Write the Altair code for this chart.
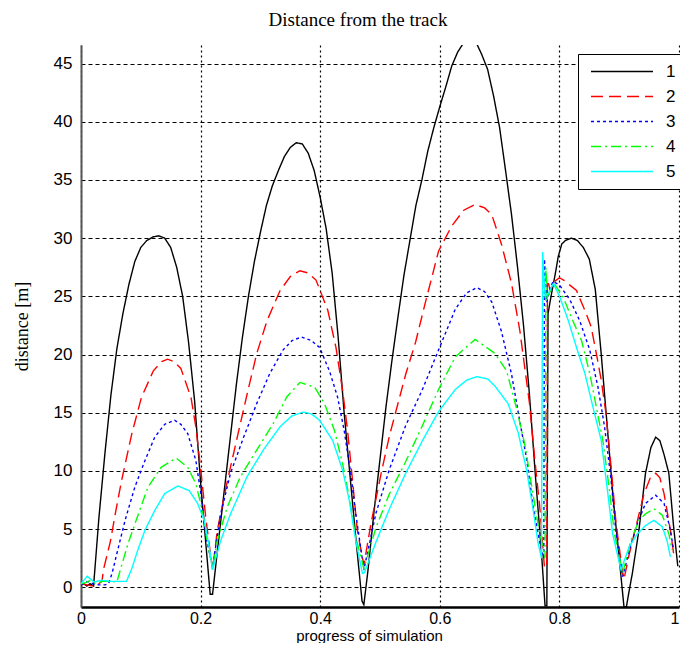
import altair as alt
import pandas as pd

# ---- data ----
SERIES = ["1", "2", "3", "4", "5"]
COLORS = ["#000000", "#ff0000", "#0000ff", "#00ff00", "#00ffff"]
DASHES = [[1, 0], [12, 6], [3, 3], [10, 4, 2, 4], [1, 0]]
XTICKS = [0, 0.2, 0.4, 0.6, 0.8, 1]
YTICKS = [0, 5, 10, 15, 20, 25, 30, 35, 40, 45]

X1 = [0, 0.005, 0.01, 0.015, 0.021, 0.03, 0.04, 0.05, 0.06, 0.07, 0.08, 0.09, 0.10, 0.11, 0.12, 0.13,
      0.14, 0.15, 0.16, 0.17, 0.18, 0.19, 0.20, 0.21, 0.216, 0.22,
      0.23, 0.24, 0.25, 0.26, 0.27, 0.28, 0.29, 0.30, 0.31, 0.32, 0.33, 0.34, 0.35, 0.36, 0.37, 0.38,
      0.39, 0.40, 0.41, 0.42, 0.43, 0.44, 0.45, 0.46, 0.47, 0.473,
      0.48, 0.49, 0.50, 0.51, 0.52, 0.53, 0.54, 0.55, 0.56, 0.57, 0.58, 0.59, 0.60, 0.61, 0.62, 0.63,
      0.64, 0.65, 0.66, 0.67, 0.68, 0.69, 0.70, 0.71, 0.72, 0.73, 0.74, 0.75, 0.76, 0.77, 0.776,
      0.779, 0.781, 0.786, 0.793, 0.798, 0.804, 0.81, 0.82, 0.83, 0.84, 0.85, 0.86, 0.87, 0.88, 0.89,
      0.90, 0.908, 0.912, 0.916, 0.922, 0.933, 0.944, 0.953, 0.961, 0.968, 0.975, 0.983, 0.991, 0.998]
Y1 = [0.2, 0.3, 0.1, 0.3, 0.1, 6, 11.5, 16.5, 20.5, 23.5, 26, 28, 29.2, 29.8, 30.1, 30.2,
      30.0, 29.2, 27.5, 25, 21, 16, 9, 3, -0.6, -0.6,
      4, 8.5, 13, 17.5, 21.5, 25, 28, 30.5, 32.8, 34.5, 35.8, 37, 37.8, 38.2, 38.1, 37.3,
      35.8, 33.5, 30.8, 27, 21.5, 15, 9.5, 4, -1.2, -1.5,
      1.5, 6.5, 11, 15.5, 19.5, 23.2, 26.8, 29.8, 32.8, 35, 37.5, 39.5, 41.3, 43, 44.8, 46,
      46.8, 47.1, 46.9, 45.8, 44.5, 42.2, 39.5, 35.8, 32, 27.5, 22.5, 16.5, 9.5, 3, -1.6,
      -1.6, 23.5, 25, 26.9, 28.4, 29.5, 29.8, 30, 29.8, 29.2, 28.2, 25.6, 20, 13.8, 7.6,
      2.5, -1.7, -1.7, -0.5, 1.2, 4.9, 9.8, 12.0, 12.9, 12.6, 11.4, 9.8, 5.2, 1.8]

X2 = [0, 0.01, 0.02, 0.03, 0.035, 0.038, 0.049, 0.058, 0.068, 0.085, 0.101, 0.121, 0.135, 0.145,
      0.155, 0.167, 0.184, 0.192, 0.2005, 0.209, 0.22,
      0.228, 0.245, 0.264, 0.2805, 0.294, 0.311, 0.333, 0.35, 0.366, 0.38, 0.393, 0.4127, 0.4264,
      0.4375, 0.4457, 0.454, 0.462, 0.473,
      0.485, 0.502, 0.5155, 0.5265, 0.543, 0.5597, 0.576, 0.598, 0.620, 0.64, 0.659, 0.675, 0.687,
      0.703, 0.720, 0.734, 0.742, 0.750, 0.7586, 0.767, 0.775,
      0.779, 0.780, 0.785, 0.79, 0.80, 0.807, 0.8286, 0.8425, 0.853, 0.8617, 0.87, 0.878, 0.8865,
      0.8947, 0.9058, 0.908,
      0.917, 0.928, 0.9416, 0.952, 0.961, 0.968, 0.975, 0.9856, 0.991]
Y2 = [0.3, 0.2, 0.1, 0.3, 0.5, 1.6, 3.9, 6.5, 9.2, 13.2, 16.3, 18.6, 19.4, 19.6,
      19.4, 18.8, 16.3, 13.8, 10, 5.8, 1.5,
      4.9, 9.2, 13.5, 17.2, 20.1, 22.9, 25.5, 26.7, 27.2, 27.0, 26.4, 23.8, 20.6,
      16.9, 13.5, 9.2, 4.9, 1.9,
      5.5, 9.8, 12.95, 15.1, 18.3, 21.1, 24.5, 28.9, 31.05, 32.4, 32.9, 32.6, 32,
      29.5, 26.1, 22, 18.9, 15.8, 11.1, 7.0, 1.7,
      1.7, 26.4, 25.5, 26.2, 26.6, 26.4, 25.5, 23.8, 22.4, 20.1, 17.8, 14.9, 10.3,
      5.5, 1.2, 0.7,
      2.9, 5.2, 8.05, 9.4, 9.8, 9.4, 8.05, 4.9, 2.9]

X3 = [0, 0.01, 0.02, 0.03, 0.04, 0.046, 0.052, 0.060, 0.074, 0.090, 0.107, 0.1234, 0.14, 0.1565,
      0.167, 0.1785, 0.192, 0.2005, 0.209, 0.22,
      0.2336, 0.25, 0.272, 0.294, 0.316, 0.338, 0.353, 0.3686, 0.385, 0.399, 0.4154, 0.429, 0.440,
      0.451, 0.4595, 0.473,
      0.4934, 0.5155, 0.543, 0.571, 0.598, 0.626, 0.645, 0.662, 0.675, 0.687, 0.703, 0.720, 0.734,
      0.745, 0.756, 0.767, 0.774,
      0.775, 0.779, 0.785, 0.79, 0.801, 0.8176, 0.834, 0.8507, 0.8645, 0.8755, 0.8865, 0.8948, 0.9058,
      0.917, 0.9306, 0.944, 0.961, 0.975, 0.9856, 0.991]
Y3 = [0.2, 0.5, 0.3, 0.2, 0.2, 0.3, 1.2, 2.9, 5.8, 8.6, 10.9, 12.9, 14.0, 14.35,
      14.0, 13.2, 10.9, 8.05, 4.3, 1.75,
      6.3, 9.8, 12.9, 15.8, 18.4, 20.4, 21.2, 21.5, 21.2, 20.6, 18.6, 16.35, 13.5,
      9.8, 6.3, 1.5,
      6.4, 10.1, 13.9, 17.0, 20.4, 23.9, 25.3, 25.75, 25.4, 24.5, 22, 18.3, 14.2,
      11.1, 7.0, 3.9, 2.5,
      28.2, 24.5, 25.8, 26.3, 25.9, 24.7, 22.9, 20.4, 17.2, 13.8, 9.2, 4.6, 0.9,
      3.2, 5.5, 7.2, 7.9, 7.2, 4.9, 3.2]

X4 = [0, 0.008, 0.016, 0.025, 0.035, 0.05, 0.06, 0.0656, 0.079, 0.096, 0.112, 0.134, 0.159,
      0.1785, 0.192, 0.203, 0.2116, 0.22,
      0.228, 0.2446, 0.2666, 0.294, 0.3218, 0.344, 0.366, 0.3906, 0.407, 0.4237, 0.4375, 0.4485,
      0.4595, 0.473,
      0.4934, 0.5155, 0.543, 0.571, 0.598, 0.626, 0.659, 0.692, 0.7116, 0.728, 0.742, 0.753, 0.764,
      0.776,
      0.7774, 0.780, 0.786, 0.79, 0.8066, 0.820, 0.837, 0.8507, 0.8617, 0.8727, 0.8838, 0.892, 0.9058,
      0.9195, 0.933, 0.944, 0.958, 0.972, 0.983, 0.9884]
Y4 = [0.3, 0.4, 0.6, 0.3, 0.5, 0.5, 0.45, 1.46, 3.8, 6.3, 8.6, 10.3, 11.1,
      10.3, 8.9, 6.6, 3.75, 1.75,
      4.0, 6.9, 9.5, 11.8, 14.1, 16.35, 17.6, 17.2, 15.8, 13.5, 10.6, 7.75,
      4.3, 1.6,
      5.15, 8.0, 10.8, 13.9, 17.0, 19.8, 21.3, 20.1, 18.6, 15.45, 12.3, 8.9, 5.5,
      2.5,
      27.5, 25, 25.6, 26.2, 24.9, 23.2, 21.2, 18.4, 15.5, 12.6, 8.3, 4.6, 1.2,
      4.0, 5.75, 6.3, 6.75, 6.2, 4.6, 3.2]

X5 = [0, 0.0105, 0.0215, 0.035, 0.05, 0.076, 0.085, 0.095, 0.107, 0.1234, 0.140, 0.162, 0.181,
      0.195, 0.206, 0.2143, 0.22,
      0.2336, 0.25, 0.2777, 0.305, 0.333, 0.352, 0.3714, 0.385, 0.399, 0.421, 0.4375, 0.4485,
      0.4595, 0.4705, 0.474,
      0.4934, 0.5155, 0.543, 0.571, 0.598, 0.626, 0.645, 0.662, 0.68, 0.692, 0.714, 0.731, 0.745,
      0.756, 0.764, 0.770,
      0.772, 0.776, 0.782, 0.79, 0.801, 0.815, 0.8286, 0.8425, 0.856, 0.870, 0.881, 0.889, 0.903,
      0.917, 0.9306, 0.944, 0.958, 0.972, 0.98, 0.9856]
Y5 = [0.3, 0.95, 0.45, 0.6, 0.5, 0.5, 1.6, 3.2, 4.9, 6.6, 8.05, 8.7, 8.3,
      7.2, 5.75, 3.5, 1.5,
      4.0, 6.3, 9.5, 11.8, 13.8, 14.7, 15.05, 14.9, 14.35, 12.6, 10.05, 7.5,
      4.0, 1.2, 1.25,
      3.9, 6.7, 9.8, 12.6, 15.1, 17.0, 17.8, 18.1, 17.9, 17.3, 15.8, 13.3, 10.1,
      6.7, 3.9, 2.5,
      28.8, 25, 25.3, 26.1, 24.9, 22.9, 20.6, 18.4, 15.5, 12.6, 8.05, 4.6, 1.5,
      3.5, 4.6, 5.3, 5.75, 5.2, 4.0, 2.6]

rows = []
for name, xs, ys in zip(SERIES, [X1, X2, X3, X4, X5], [Y1, Y2, Y3, Y4, Y5]):
    for i, (xv, yv) in enumerate(zip(xs, ys)):
        rows.append({"series": name, "x": xv, "y": yv, "i": i})
df = pd.DataFrame(rows)

legend = alt.Legend(
    title=None, orient="none", legendX=497, legendY=9,
    symbolType="stroke", symbolSize=3844, symbolStrokeWidth=1.4,
    clipHeight=25, rowPadding=0, padding=5, symbolOffset=7, labelOffset=12,
    labelFont="Liberation Sans", labelFontSize=17, labelColor="black",
    strokeColor="black", fillColor="white", cornerRadius=0,
)

chart = alt.Chart(df).mark_line(strokeWidth=1.4, clip=True).encode(
    x=alt.X("x:Q",
            scale=alt.Scale(domain=[0, 1], nice=False, zero=False),
            axis=alt.Axis(values=XTICKS, format="~g", title="progress of simulation",
                          grid=True, gridDash=[2, 3], gridColor="black", gridOpacity=1, gridWidth=1.2,
                          domainColor="black", domainWidth=2.5, ticks=False,
                          labelFont="Liberation Sans", labelFontSize=16, labelColor="black",
                          labelPadding=3,
                          labelAlign={"condition": {"test": "datum.value == 1", "value": "right"},
                                      "value": "center"},
                          titleFont="Liberation Sans", titleFontSize=15,
                          titleFontWeight="normal", titleColor="black",
                          titleBaseline="alphabetic", titleY=33,
                          titleX=288, labelFlush=False)),
    y=alt.Y("y:Q",
            scale=alt.Scale(domain=[-1.7, 46.6], nice=False, zero=False),
            axis=alt.Axis(values=YTICKS, title="distance [m]",
                          grid=True, gridDash=[4, 3], gridColor="black", gridOpacity=1, gridWidth=1.2,
                          domainColor="#555555", domainWidth=2, ticks=False,
                          labelFont="Liberation Sans", labelFontSize=17, labelColor="black",
                          labelPadding=9, titleFont="Liberation Serif", titleFontSize=18,
                          titleFontWeight="normal", titleColor="black", titlePadding=22)),
    color=alt.Color("series:N", scale=alt.Scale(domain=SERIES, range=COLORS), legend=legend),
    strokeDash=alt.StrokeDash("series:N", scale=alt.Scale(domain=SERIES, range=DASHES), legend=legend),
    order=alt.Order("i:Q"),
).properties(
    width=598, height=562,
    title=alt.TitleParams("Distance from the track", font="Liberation Serif", fontSize=19,
                          fontWeight="normal", color="black", anchor="middle", frame="group",
                          dx=-22, offset=0, baseline="alphabetic"),
    autosize=alt.AutoSizeParams(type="none"),
    padding={"left": 73, "top": 37, "right": 1, "bottom": 36},
).configure_view(stroke=None)

chart.save("out.html", embed_options={"renderer": "svg", "actions": False})
